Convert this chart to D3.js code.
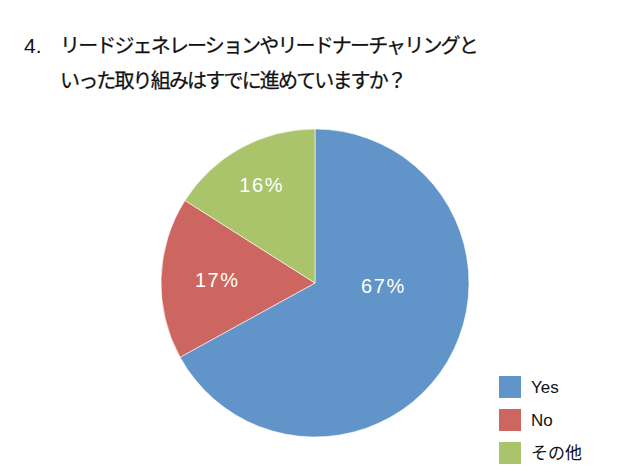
<!DOCTYPE html>
<html>
<head>
<meta charset="utf-8">
<script src="https://cdn.jsdelivr.net/npm/d3@7"></script>
<style>
  body { margin: 0; background: #fff; }
  text { font-family: "Liberation Sans", "Noto Sans CJK JP", sans-serif; }
</style>
</head>
<body>
<svg id="chart"></svg>
<script>
const titleLines = ["リードジェネレーションやリードナーチャリングと", "いった取り組みはすでに進めていますか？"];
const categories = ["Yes", "No", "その他"];
const values = [67, 17, 16];
const colors = ["#6195c9", "#cd6660", "#a9c46b"];

const w = 628, h = 476;
const cx = 315, cy = 283, r = 154;

const svg = d3.select("#chart")
    .attr("width", w)
    .attr("height", h);

// title
svg.append("text")
    .text("4.")
    .attr("x", 24)
    .attr("y", 53)
    .attr("font-size", "21px")
    .attr("fill", "#111");
svg.selectAll("text.title")
    .data(titleLines)
    .enter()
    .append("text")
    .attr("class", "title")
    .text(d => d)
    .attr("x", 60)
    .attr("y", (d, i) => 53 + i * 35)
    .attr("font-size", "20px")
    .attr("letter-spacing", "-1.85px")
    .attr("stroke", "#111")
    .attr("stroke-width", 0.25)
    .attr("fill", "#111");

const data = categories.map((c, i) => ({name: c, value: values[i], color: colors[i]}));

const pie = d3.pie().value(d => d.value).sort(null);
const arc = d3.arc().innerRadius(0).outerRadius(r);
const arcs = pie(data);

const g = svg.append("g").attr("transform", `translate(${cx},${cy})`);

g.selectAll("path")
    .data(arcs)
    .enter()
    .append("path")
    .attr("d", arc)
    .attr("fill", d => d.data.color)
    .attr("stroke", "#fff")
    .attr("stroke-width", 0.6);

// label placement like the original "best fit": big slice label sits right of centre
const labelPos = (d, i) => {
    if (i === 0) {
        const a = Math.PI / 2 + 0.04; // near 3 o'clock for the big slice
        const rr = r * 0.44;
        return [Math.sin(a) * rr, -Math.cos(a) * rr];
    }
    const k = i === 1 ? 0.64 : 0.73;
    return d3.arc().innerRadius(r * k).outerRadius(r * k).centroid(d);
};

g.selectAll("text.pct")
    .data(arcs)
    .enter()
    .append("text")
    .attr("class", "pct")
    .text(d => d.data.value + "%")
    .attr("x", (d, i) => labelPos(d, i)[0] + 0.8)
    .attr("y", (d, i) => labelPos(d, i)[1])
    .attr("dy", "0.35em")
    .attr("text-anchor", "middle")
    .attr("font-size", "20px")
    .attr("letter-spacing", "1.6px")
    .attr("fill", "#fff");

// legend
const leg = svg.append("g").attr("transform", "translate(499,376)");
const items = leg.selectAll("g")
    .data(data)
    .enter()
    .append("g")
    .attr("transform", (d, i) => `translate(0,${i * 33})`);
items.append("rect")
    .attr("width", 22)
    .attr("height", 22)
    .attr("fill", d => d.color);
items.append("text")
    .text(d => d.name)
    .attr("x", 32)
    .attr("y", 11)
    .attr("dy", "0.36em")
    .attr("font-size", "17px")
    .attr("fill", "#111");
</script>
</body>
</html>
